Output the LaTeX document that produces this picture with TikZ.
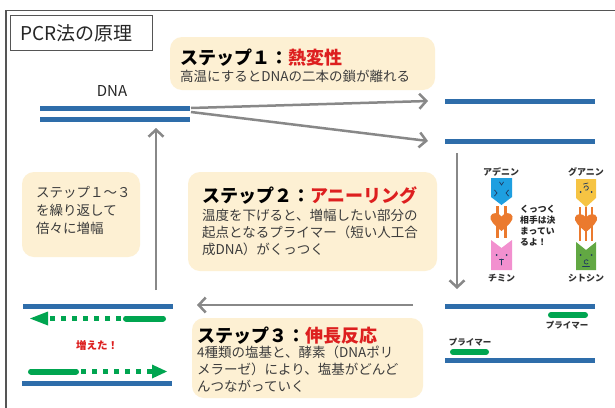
\documentclass[tikz,border=0pt]{standalone}
\usepackage{fontspec}
\setmainfont{Noto Sans CJK JP}
\usetikzlibrary{arrows.meta}

\definecolor{dnablue}{HTML}{2E6DAA}
\definecolor{primergreen}{HTML}{00A550}
\definecolor{cream}{HTML}{FDF0D3}
\definecolor{stepred}{HTML}{DD1F1F}
\definecolor{flowgray}{HTML}{888888}
\definecolor{framegray}{HTML}{555555}
\definecolor{bodygray}{HTML}{3C3C3C}
\definecolor{adenine}{HTML}{1E9FE0}
\definecolor{thymine}{HTML}{F290CF}
\definecolor{guanine}{HTML}{F6C443}
\definecolor{cytosine}{HTML}{62A843}
\definecolor{bondorange}{HTML}{EB7A2E}
\definecolor{facenavy}{HTML}{1F3A60}

\tikzset{
  strand/.style={draw=dnablue, line width=5pt},
  primer/.style={draw=primergreen, line width=6pt, line cap=round},
  flow/.style={draw=flowgray, line width=2.5pt,
    -{Straight Barb[length=7pt,width=15pt]}},
  stepbox/.style={fill=cream, rounded corners=12pt, draw=none},
  steptitle/.style={anchor=base west, inner sep=0pt, font=\fontsize{18}{18}\selectfont\bfseries},
  stepbody/.style={anchor=base west, inner sep=0pt, text=bodygray, font=\fontsize{13.5}{13.5}\selectfont},
  smalllabel/.style={anchor=base, inner sep=0pt, text=black!80, font=\fontsize{9}{9}\selectfont\bfseries},
  notelabel/.style={anchor=base west, inner sep=0pt, text=black!85, font=\fontsize{8.8}{8.8}\selectfont\bfseries},
  bond/.style={draw=bondorange, line width=2.6pt},
  face/.style={draw=facenavy, line width=0.7pt, line cap=round},
}

\begin{document}
\begin{tikzpicture}[x=1pt, y=-1pt]
\clip (0,0) rectangle (615,407);
\fill[white] (0,0) rectangle (615,407);

% outer frame and heading
\draw[framegray, line width=1.6pt] (6,10.5) rectangle (640,430);
\draw[framegray, line width=0.8pt] (10,15) rectangle (152,50);
\node[anchor=base west, inner sep=0pt, text=black!85, font=\fontsize{19}{19}\selectfont] (heading) at (20,40) {PCR法の原理};

% ---------- step 1: denaturation ----------
\path[stepbox] (170,37) rectangle (435,90);
\node[steptitle] (s1title) at (180,64) {ステップ１：\textcolor{stepred}{熱変性}};
\node[stepbody] (s1body) at (180,81) {高温にするとDNAの二本の鎖が離れる};

% double-stranded DNA
\node[anchor=base, inner sep=0pt, text=black!85, font=\fontsize{15}{15}\selectfont] (dnalabel) at (112,96) {DNA};
\coordinate (d1a) at (40,108);  \coordinate (d1b) at (190,108);
\coordinate (d2a) at (40,119);  \coordinate (d2b) at (190,119);
\draw[strand] (d1a) -- (d1b);
\draw[strand] (d2a) -- (d2b);

% separated strands
\coordinate (r1a) at (445,101); \coordinate (r1b) at (595,101);
\coordinate (r2a) at (445,141); \coordinate (r2b) at (595,141);
\draw[strand] (r1a) -- (r1b);
\draw[strand] (r2a) -- (r2b);

\coordinate (sep1) at (191,108);
\coordinate (sep2) at (191,112);
\coordinate (tip1) at (428,101);
\coordinate (tip2) at (428,141);
\draw[flow] (sep1) -- (tip1);
\draw[flow] (sep2) -- (tip2);

% ---------- step 2: annealing ----------
\path[stepbox] (188,172) rectangle (437,271);
\node[steptitle] (s2title) at (202,202) {ステップ２：\textcolor{stepred}{アニーリング}};
\node[stepbody] (s2l1) at (202,220) {温度を下げると、増幅したい部分の};
\node[stepbody] (s2l2) at (202,237) {起点となるプライマー（短い人工合};
\node[stepbody] (s2l3) at (202,254) {成DNA）がくっつく};

\coordinate (downA) at (457,153);
\coordinate (downB) at (457,289);
\draw[flow] (downA) -- (downB);

% base pairing: adenine - thymine
\node[smalllabel] (lblA) at (501,175) {アデニン};
\fill[adenine] (491,178) -- (512,178) -- (512,197) -- (501.5,205) -- (491,197) -- cycle;
\draw[face] (499.5,182) -- (501.5,185) -- (503.5,182);
\draw[face] (494.5,190) -- (497,193) -- (494.5,196);
\draw[face] (508.5,190) -- (506,193) -- (508.5,196);
\draw[bond] (497.5,206) -- (497.5,238);
\draw[bond] (505.5,206) -- (505.5,238);
\fill[bondorange] (501.5,231) .. controls (494,225) and (489.5,220) .. (490.5,216.5)
  .. controls (491.5,212) and (498.5,212) .. (501.5,216.5)
  .. controls (504.5,212) and (511.5,212) .. (512.5,216.5)
  .. controls (513.5,220) and (509,225) .. (501.5,231) -- cycle;
\fill[thymine] (491,240) -- (501.5,248) -- (512,240) -- (512,270) -- (491,270) -- cycle;
\fill[facenavy] (496.5,255) circle (1pt) (506.5,255) circle (1pt);
\draw[face] (499.5,259) -- (503.5,259) (501.5,259) -- (501.5,265);
\node[smalllabel] (lblT) at (501.5,281) {チミン};

% base pairing: guanine - cytosine
\node[smalllabel] (lblG) at (586,175) {グアニン};
\fill[guanine] (576,179) -- (596,179) -- (596,198) -- (586,207) -- (576,198) -- cycle;
\draw[face] (584,188) arc[start angle=180, end angle=-110, radius=2.2pt] ;
\draw[face] (583.5,184) -- (588,183);
\fill[facenavy] (580.5,192) circle (1pt) (591.5,192) circle (1pt);
\draw[bond] (580,207) -- (580,241);
\draw[bond] (586,207) -- (586,241);
\draw[bond] (592,207) -- (592,241);
\fill[bondorange] (586,232) .. controls (578.5,226) and (574,221) .. (575,217.5)
  .. controls (576,213) and (583,213) .. (586,217.5)
  .. controls (589,213) and (596,213) .. (597,217.5)
  .. controls (598,221) and (593.5,226) .. (586,232) -- cycle;
\fill[cytosine] (576,242) -- (586,250) -- (596,242) -- (596,270) -- (576,270) -- cycle;
\fill[facenavy] (580.5,255) circle (1pt) (591.5,255) circle (1pt);
\draw[face] (588,260.5) arc[start angle=40, end angle=320, radius=2.2pt];
\draw[face] (582.5,266) -- (589.5,266);
\node[smalllabel] (lblC) at (586,281) {シトシン};

\node[notelabel] (note1) at (520,212.5) {くっつく};
\node[notelabel] (note2) at (520,223.5) {相手は決};
\node[notelabel] (note3) at (520,234.5) {まってい};
\node[notelabel] (note4) at (520,245.5) {るよ！};

% annealed template strands with primers
\coordinate (b1a) at (445,306); \coordinate (b1b) at (595,306);
\coordinate (b2a) at (445,360); \coordinate (b2b) at (595,360);
\draw[strand] (b1a) -- (b1b);
\draw[strand] (b2a) -- (b2b);
\coordinate (p1a) at (551,315); \coordinate (p1b) at (585,315);
\coordinate (p2a) at (453,352); \coordinate (p2b) at (486,352);
\draw[primer] (p1a) -- (p1b);
\draw[primer] (p2a) -- (p2b);
\node[smalllabel, font=\fontsize{8.5}{8.5}\selectfont\bfseries] (lblP1) at (567,328) {プライマー};
\node[smalllabel, font=\fontsize{8.5}{8.5}\selectfont\bfseries] (lblP2) at (470,345) {プライマー};

% ---------- step 3: extension ----------
\coordinate (leftA) at (413,305);
\coordinate (leftB) at (197,305);
\draw[flow] (leftA) -- (leftB);

\path[stepbox] (192,318) rectangle (423,398);
\node[steptitle] (s3title) at (197,342) {ステップ３：\textcolor{stepred}{伸長反応}};
\node[stepbody] (s3l1) at (197,357) {4種類の塩基と、酵素（DNAポリ};
\node[stepbody] (s3l2) at (197,374) {メラーゼ）により、塩基がどんど};
\node[stepbody] (s3l3) at (197,391) {んつながっていく};

% extended strands
\coordinate (e1a) at (23,306);  \coordinate (e1b) at (173,306);
\coordinate (e2a) at (22,383);  \coordinate (e2b) at (172,383);
\draw[strand] (e1a) -- (e1b);
\draw[strand] (e2a) -- (e2b);

\draw[primer] (126,318.5) -- (163,318.5);
\draw[draw=primergreen, line width=5pt, dash pattern=on 5pt off 6pt] (121,318.5) -- (47,318.5);
\fill[primergreen] (30,318.5) -- (48,311.5) -- (48,325.5) -- cycle;

\draw[primer] (31,371.5) -- (76,371.5);
\draw[draw=primergreen, line width=5pt, dash pattern=on 5pt off 6pt] (81,371.5) -- (153,371.5);
\fill[primergreen] (167,371.5) -- (152,364.5) -- (152,378.5) -- cycle;

\node[anchor=base, inner sep=0pt, text=stepred, font=\fontsize{10.5}{10.5}\selectfont\bfseries] (more) at (97,349) {増えた！};

% ---------- repeat ----------
\coordinate (upA) at (156,290);
\coordinate (upB) at (156,128);
\draw[flow] (upA) -- (upB);

\path[stepbox] (22,172) rectangle (140,257);
\node[stepbody] (r1) at (36,197) {ステップ１～３};
\node[stepbody] (r2) at (36,215) {を繰り返して};
\node[stepbody] (r3) at (36,233) {倍々に増幅};

\end{tikzpicture}
\end{document}
